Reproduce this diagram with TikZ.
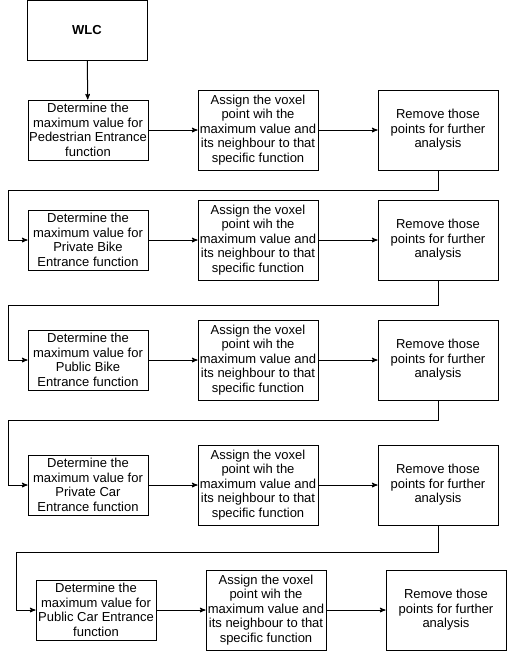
\documentclass[tikz,border=0pt]{standalone}
\usepackage{fontspec}
\setmainfont{Liberation Sans}
\usetikzlibrary{arrows}

\begin{document}
\begin{tikzpicture}[x=1pt,y=-1pt]
			\tikzstyle{step box} = [
				rectangle, draw = black, line width = 1pt,
				inner sep = 0pt, minimum width = 120pt, minimum height = 60pt,
				align = center, font = \fontsize{13}{14.5}\selectfont
			]
			\tikzstyle{tall box} = [step box, minimum height = 80pt]
			\tikzstyle{line}=[->,draw=black,>=stealth',line width=1pt]
			\useasboundingbox (0,0) rectangle (507,651);
			\node[step box] (w) at (87,30) {\textbf{WLC}};
			% row 1
			\node[step box] (d1) at (88,130) {Determine the\\maximum value for\\Pedestrian Entrance\\function};
			\node[tall box] (a1) at (258,130) {Assign the voxel\\point wih the\\maximum value and\\its neighbour to that\\specific function};
			\node[tall box] (r1) at (438,130) {Remove those\\points for further\\analysis};
			% row 2
			\node[step box] (d2) at (88,240) {Determine the\\maximum value for\\Private Bike\\Entrance function};
			\node[tall box] (a2) at (258,240) {Assign the voxel\\point wih the\\maximum value and\\its neighbour to that\\specific function};
			\node[tall box] (r2) at (438,240) {Remove those\\points for further\\analysis};
			% row 3
			\node[step box] (d3) at (88,360) {Determine the\\maximum value for\\Public Bike\\Entrance function};
			\node[tall box] (a3) at (258,360) {Assign the voxel\\point wih the\\maximum value and\\its neighbour to that\\specific function};
			\node[tall box] (r3) at (438,360) {Remove those\\points for further\\analysis};
			% row 4
			\node[step box] (d4) at (88,485) {Determine the\\maximum value for\\Private Car\\Entrance function};
			\node[tall box] (a4) at (258,485) {Assign the voxel\\point wih the\\maximum value and\\its neighbour to that\\specific function};
			\node[tall box] (r4) at (438,485) {Remove those\\points for further\\analysis};
			% row 5
			\node[step box] (d5) at (96,610) {Determine the\\maximum value for\\Public Car Entrance\\function};
			\node[tall box] (a5) at (266,610) {Assign the voxel\\point wih the\\maximum value and\\its neighbour to that\\specific function};
			\node[tall box] (r5) at (446,610) {Remove those\\points for further\\analysis};
			% bends
			\coordinate (b1) at (8,190);
			\coordinate (b2) at (8,305);
			\coordinate (b3) at (8,420);
			\coordinate (b4) at (16,552);
			\draw (w) to (d1) [line];
			\draw (d1) to (a1) [line];
			\draw (a1) to (r1) [line];
			\draw (d2) to (a2) [line];
			\draw (a2) to (r2) [line];
			\draw (d3) to (a3) [line];
			\draw (a3) to (r3) [line];
			\draw (d4) to (a4) [line];
			\draw (a4) to (r4) [line];
			\draw (d5) to (a5) [line];
			\draw (a5) to (r5) [line];
			\draw (r1) |- (b1) |- (d2) [line];
			\draw (r2) |- (b2) |- (d3) [line];
			\draw (r3) |- (b3) |- (d4) [line];
			\draw (r4) |- (b4) |- (d5) [line];
		\end{tikzpicture}
\end{document}
